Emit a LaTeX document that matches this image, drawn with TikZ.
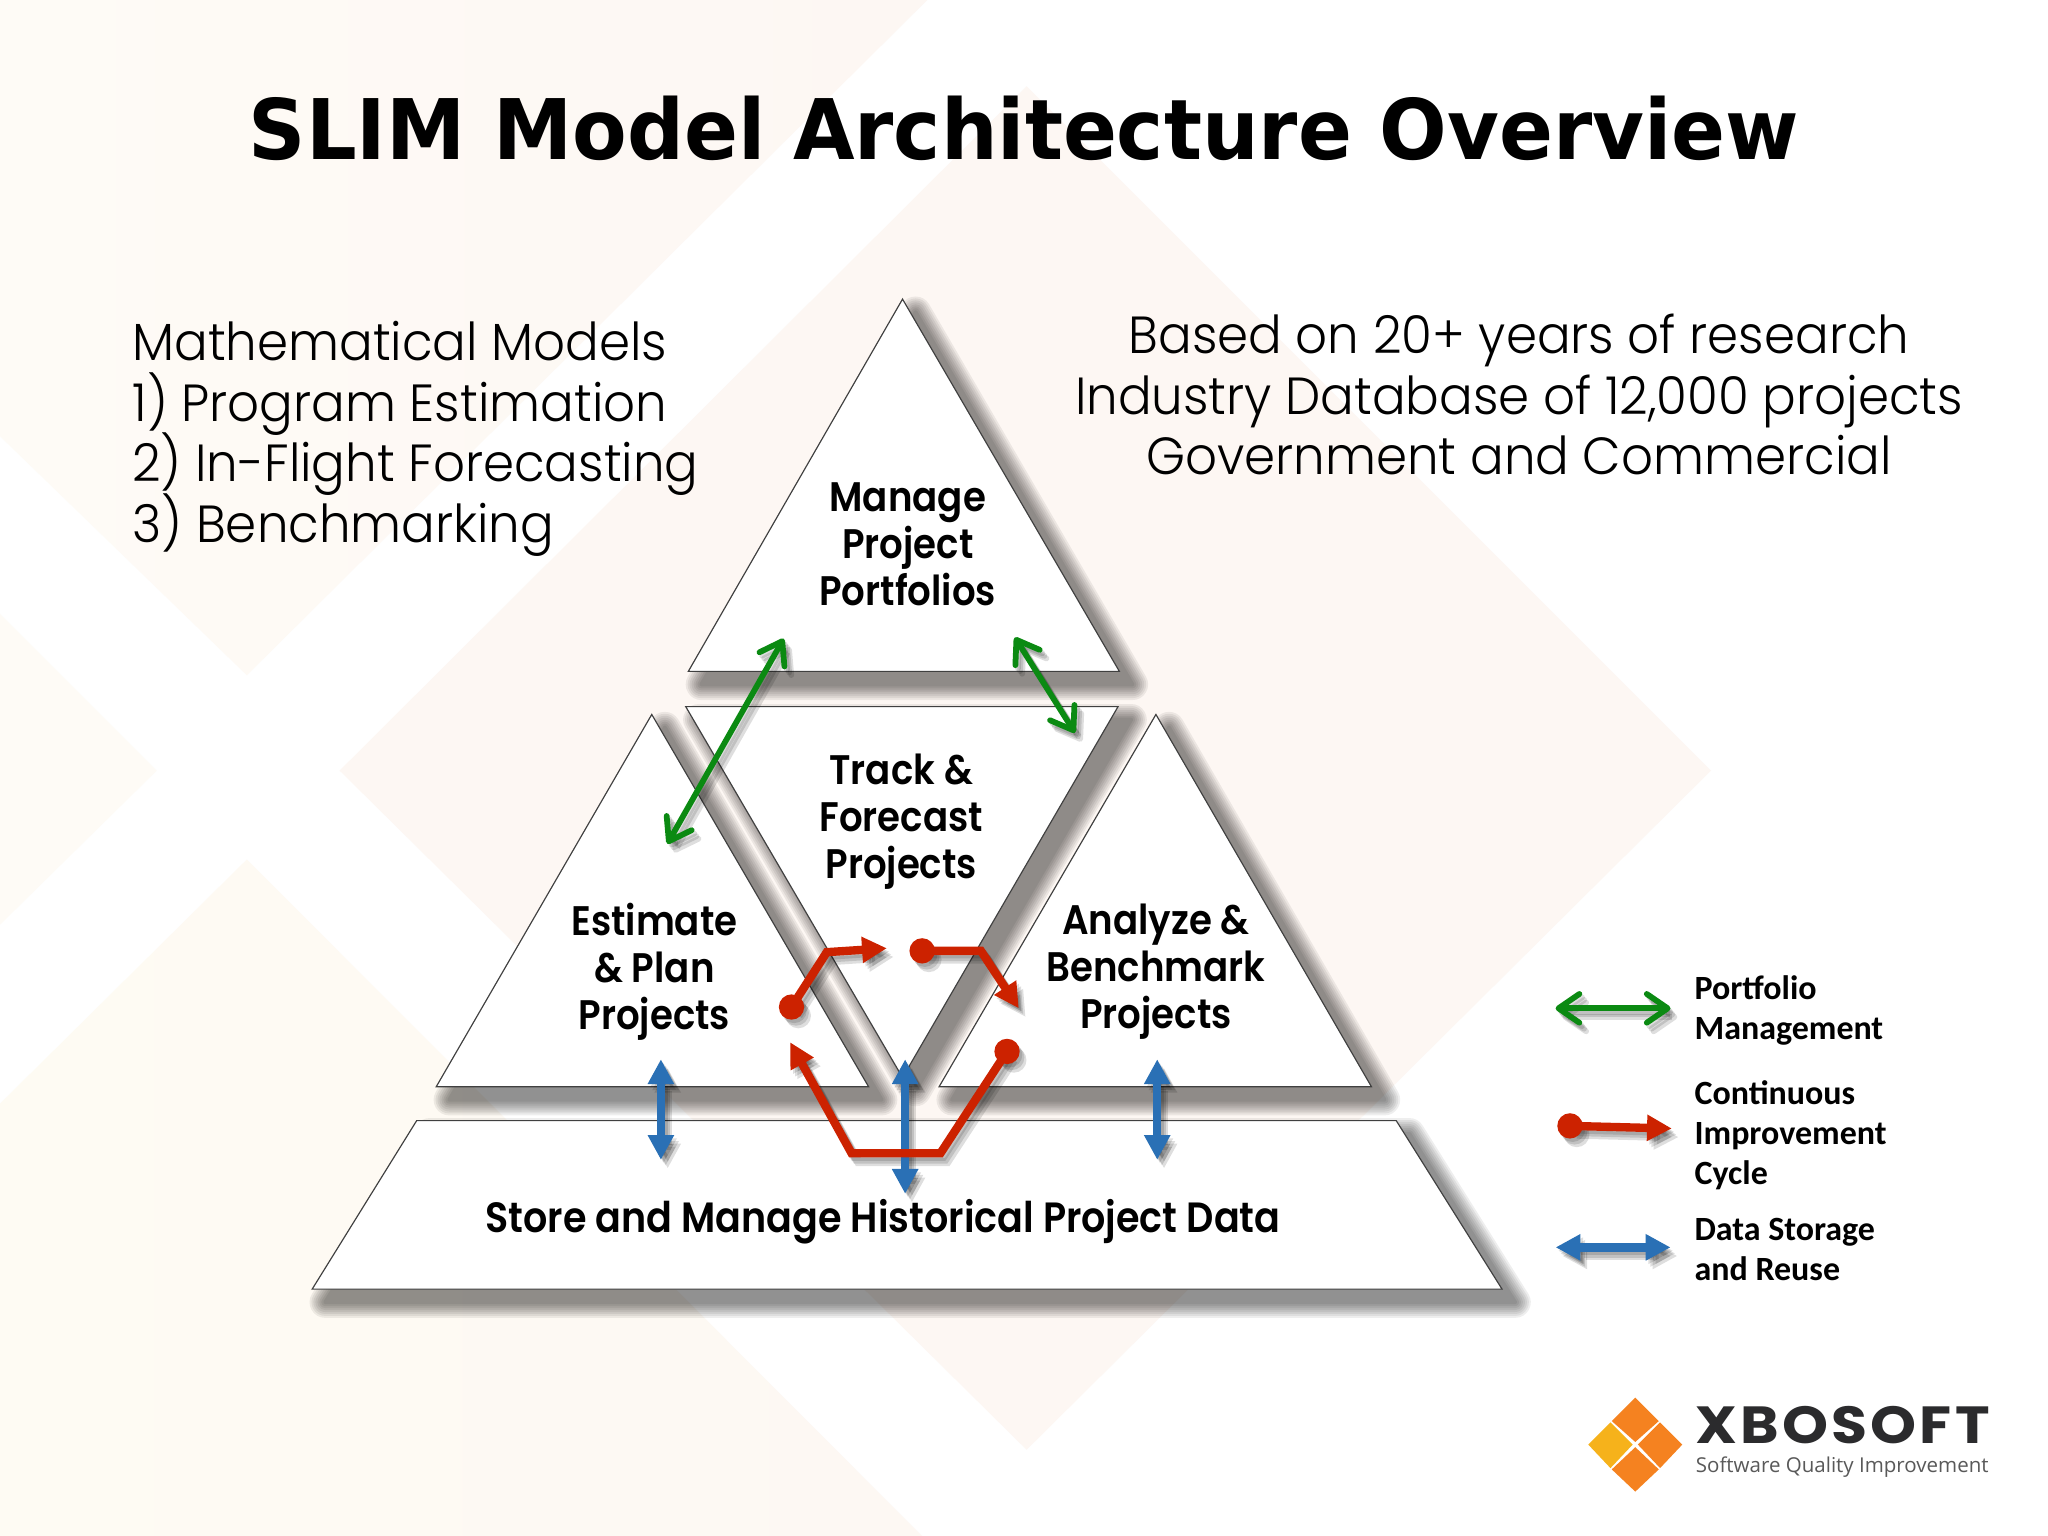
\documentclass[tikz,border=0pt]{standalone}
\usepackage{fontspec}
\usetikzlibrary{arrows.meta}
\setmainfont{DejaVu Sans}
\newfontfamily\titlef{DejaVu Sans}[BoldFont=* Bold,FakeStretch=.952]
\newfontfamily\lightf{Poppins Light}[FakeStretch=.955]
\newfontfamily\labelf{Poppins SemiBold}[FakeStretch=.9]
\newfontfamily\legendf{Carlito}
\newfontfamily\logof{Open Sans}
\newfontfamily\logoname{Poppins Bold}[LetterSpace=6,FakeStretch=1.12]
\definecolor{creamA}{HTML}{FEFBF3}
\definecolor{creamAb}{HTML}{FDF8F3}
\definecolor{creamB}{HTML}{FDF7F3}
\definecolor{creamC}{HTML}{FEFBF6}
\definecolor{grn}{HTML}{0B8A12}
\definecolor{rd}{HTML}{CC2200}
\definecolor{blu}{HTML}{2A70B5}
\definecolor{orng}{HTML}{F58220}
\definecolor{yel}{HTML}{F6B21B}
\definecolor{logot}{HTML}{2B2B2D}
\newcommand{\tightlines}{\setlength{\lineskiplimit}{-20pt}\setlength{\lineskip}{0pt}}
\newcommand{\softshadow}[1]{%
  \foreach \w in {12,10.5,9,7.5,6,4.5,3,1.5}{%
    \begin{scope}[transparency group,opacity=.065,transform canvas={shift={(5pt,-5pt)}}]
    \path[draw=black,fill=black,line width=\w pt,line join=round] #1;
    \end{scope}}}
\newcommand{\arshadow}[1]{%
  \foreach \sx/\sy in {1/1.3,1.8/2.3,2.6/3.3}{%
    \path[opacity=.13,transform canvas={shift={(\sx pt,-\sy pt)}},#1;}}
\tikzset{
  lab/.style={font=\labelf\fontsize{15.8}{18}\selectfont\tightlines,align=center,inner sep=0pt},
  big/.style={font=\lightf\fontsize{20}{23.2}\selectfont\tightlines,inner sep=0pt},
  pyr/.style={fill=white,draw=black!75,line width=.45pt,line join=miter},
  leg/.style={font=\legendf\bfseries\fontsize{13}{15.3}\selectfont,align=left,anchor=west,inner sep=0pt},
  gshape/.style={line width=2.2pt,{Straight Barb[length=8pt,width=11pt,round]}-{Straight Barb[length=8pt,width=11pt,round]}},
  bshape/.style={line width=3.2pt,{Triangle[length=9.5pt,width=9.5pt]}-{Triangle[length=9.5pt,width=9.5pt]}},
  rshape/.style={line width=3.2pt,line join=miter,-{Triangle[length=9.5pt,width=9.5pt]}},
  greenar/.style={draw=grn,gshape},
  bluear/.style={draw=blu,bshape},
  redar/.style={draw=rd,rshape},
  reddot/.style={fill=rd},
}
\begin{document}
\begin{tikzpicture}[x=.5pt,y=-.5pt]
\useasboundingbox (0,0) rectangle (1568,1176);
\fill[white] (0,0) rectangle (1568,1176);
% background diamonds
\shade[left color=creamC,right color=creamB] (0,0) -- (710,0) -- (189,517) -- (0,334) -- cycle;
\fill[creamC] (0,470) -- (120,590) -- (0,708) -- cycle;
\fill[creamB] (786,66) -- (1310,590) -- (786,1110) -- (260,590) -- cycle;
\shade[left color=creamA,right color=creamAb] (189,658) -- (706,1176) -- (0,1176) -- (0,845) -- cycle;
% coordinates of the shapes
\coordinate (topA) at (691,229); \coordinate (topB) at (857,514); \coordinate (topC) at (527,514);
\coordinate (midA) at (525,541); \coordinate (midB) at (856,541); \coordinate (midC) at (691,825);
\coordinate (lftA) at (499,547); \coordinate (lftB) at (665,832); \coordinate (lftC) at (334,832);
\coordinate (rgtA) at (885,547); \coordinate (rgtB) at (1050,832); \coordinate (rgtC) at (719,832);
\coordinate (basA) at (319,858); \coordinate (basB) at (1069,858); \coordinate (basC) at (1150,987); \coordinate (basD) at (239,987);
% shadows
\softshadow{(topA)--(topB)--(topC)--cycle}
\softshadow{(midA)--(midB)--(midC)--cycle}
\softshadow{(lftA)--(lftB)--(lftC)--cycle}
\softshadow{(rgtA)--(rgtB)--(rgtC)--cycle}
\softshadow{(basA)--(basB)--(basC)--(basD)--cycle}
% shapes
\path[pyr] (topA)--(topB)--(topC)--cycle;
\path[pyr] (midA)--(midB)--(midC)--cycle;
\path[pyr] (lftA)--(lftB)--(lftC)--cycle;
\path[pyr] (rgtA)--(rgtB)--(rgtC)--cycle;
\path[pyr] (basA)--(basB)--(basC)--(basD)--cycle;
% title and texts
\node[font=\titlef\bfseries\fontsize{32}{36}\selectfont,inner sep=0pt] (title) at (784,98) {SLIM Model Architecture Overview};
\node[big,anchor=west,align=left] (mathtxt) at (101,336) {Mathematical Models\\1) Program Estimation\\2) In-Flight Forecasting\\3) Benchmarking};
\node[big,align=center] (basedtxt) at (1163,302) {Based on 20+ years of research\\Industry Database of 12,000 projects\\Government and Commercial};
\node[lab] (manage) at (695,417) {Manage\\Project\\Portfolios};
\node[lab] (track) at (690,629) {Track \&\\Forecast\\Projects};
\node[lab] (estimate) at (501,744) {Estimate\\\& Plan\\Projects};
\node[lab] (analyze) at (885,744) {Analyze \&\\Benchmark\\Projects};
\node[lab,font=\labelf\fontsize{16.2}{18}\selectfont] (store) at (676,935) {Store and Manage Historical Project Data};
% connector ends
\coordinate (g1a) at (600,489); \coordinate (g1b) at (511,646);
\coordinate (g2a) at (777,488); \coordinate (g2b) at (823,561);
\coordinate (g3a) at (1191,772); \coordinate (g3b) at (1279,772);
\coordinate (b1a) at (506,811); \coordinate (b1b) at (506,888);
\coordinate (b2a) at (693,811); \coordinate (b2b) at (693,914);
\coordinate (b3a) at (886,811); \coordinate (b3b) at (886,888);
\coordinate (b4a) at (1191,955); \coordinate (b4b) at (1279,955);
\coordinate (r1a) at (606,771); \coordinate (r1m) at (633,729); \coordinate (r1b) at (679,726);
\coordinate (r2a) at (706,728); \coordinate (r2m) at (751,728); \coordinate (r2b) at (780,772);
\coordinate (r3a) at (771,805); \coordinate (r3m) at (720,883); \coordinate (r3n) at (652,883); \coordinate (r3b) at (605,798);
\coordinate (r4a) at (1202,862); \coordinate (r4b) at (1280,864);
% arrow shadows
\arshadow{draw=black,gshape] (g1a)--(g1b)}
\arshadow{draw=black,gshape] (g2a)--(g2b)}
\arshadow{draw=black,gshape] (g3a)--(g3b)}
\arshadow{draw=black,bshape] (b1a)--(b1b)}
\arshadow{draw=black,bshape] (b2a)--(b2b)}
\arshadow{draw=black,bshape] (b3a)--(b3b)}
\arshadow{draw=black,bshape] (b4a)--(b4b)}
\arshadow{draw=black,rshape] (r1a)--(r1m)--(r1b)}
\arshadow{draw=black,rshape] (r2a)--(r2m)--(r2b)}
\arshadow{draw=black,rshape] (r3a)--(r3m)--(r3n)--(r3b)}
\arshadow{draw=black,rshape] (r4a)--(r4b)}
\arshadow{fill=black] (r1a) circle[radius=4.85pt]}
\arshadow{fill=black] (r2a) circle[radius=4.85pt]}
\arshadow{fill=black] (r3a) circle[radius=4.85pt]}
\arshadow{fill=black] (r4a) circle[radius=4.85pt]}
% arrows
\draw[bluear] (b1a)--(b1b);
\draw[bluear] (b2a)--(b2b);
\draw[bluear] (b3a)--(b3b);
\draw[bluear] (b4a)--(b4b);
\draw[greenar] (g1a)--(g1b);
\draw[greenar] (g2a)--(g2b);
\draw[greenar] (g3a)--(g3b);
\draw[redar] (r1a)--(r1m)--(r1b);
\draw[redar] (r2a)--(r2m)--(r2b);
\draw[redar] (r3a)--(r3m)--(r3n)--(r3b);
\draw[redar] (r4a)--(r4b);
\foreach \p in {r1a,r2a,r3a,r4a}{\fill[reddot] (\p) circle[radius=4.85pt];}
% legend
\node[leg] (leg1) at (1297,774) {Portfolio\\Management};
\node[leg] (leg2) at (1297,869) {Continuous\\Improvement\\Cycle};
\node[leg] (leg3) at (1297,957) {Data Storage\\and Reuse};
% logo
\fill[orng] (1252,1070)--(1270,1088)--(1252,1104)--(1234,1088)--cycle;
\fill[orng] (1271,1089)--(1288,1106)--(1271,1124)--(1254,1106)--cycle;
\fill[orng] (1252,1108)--(1270,1125)--(1252,1142)--(1234,1125)--cycle;
\fill[yel] (1233,1089)--(1250,1106)--(1233,1124)--(1216,1106)--cycle;
\node[font=\logoname\fontsize{20}{22}\selectfont,text=logot,anchor=base west,inner sep=0pt,text height=7pt,text depth=0pt] (logotxt) at (1298,1105) {XBOSOFT};
\node[font=\logof\fontsize{7.85}{10}\selectfont,text=black!65,anchor=base west,inner sep=0pt,text height=5pt,text depth=1.5pt] (logosub) at (1298,1127) {Software Quality Improvement};
\end{tikzpicture}
\end{document}
